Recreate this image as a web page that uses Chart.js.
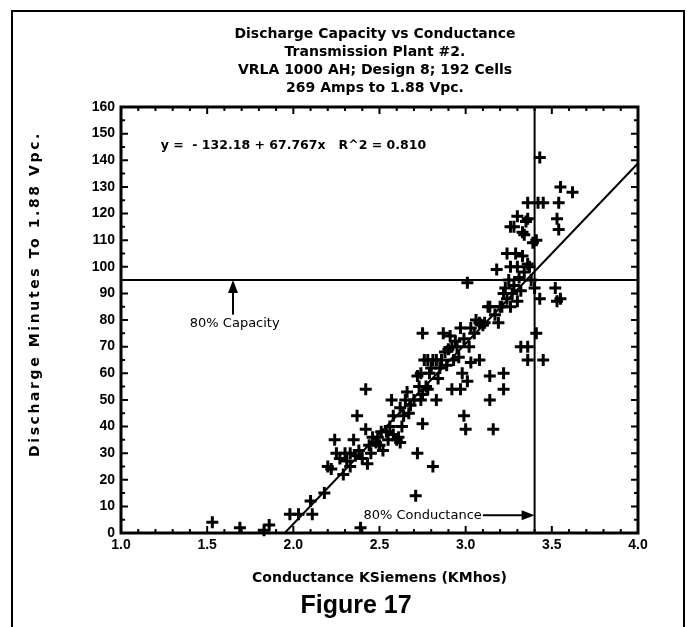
<!DOCTYPE html>
<html>
<head>
<meta charset="utf-8">
<script src="https://cdn.jsdelivr.net/npm/chart.js@4.4.1/dist/chart.umd.min.js"></script>
<style>
body{margin:0;background:#fff;}
#wrap{position:relative;width:687px;height:627px;overflow:hidden;}
#frame{position:absolute;left:11px;top:10px;width:670px;height:700px;border:2px solid #000;}
canvas{position:absolute;left:0;top:0;}
</style>
</head>
<body>
<div id="wrap"><div id="frame"></div><canvas id="chart" width="687" height="627"></canvas></div>
<script>
// values
const conductance = [1.53,1.69,1.83,1.86,1.98,2.03,2.10,2.11,2.18,2.20,2.22,2.24,2.25,2.27,2.29,2.30,2.31,2.33,2.33,2.35,
2.36,2.37,2.38,2.39,2.40,2.42,2.42,2.43,2.44,2.45,2.46,2.48,2.49,2.50,2.51,2.52,2.54,2.55,2.56,2.57,
2.58,2.58,2.60,2.61,2.62,2.62,2.63,2.64,2.65,2.66,2.67,2.68,2.70,2.71,2.72,2.72,2.73,2.74,2.74,2.75,
2.75,2.75,2.76,2.77,2.78,2.78,2.79,2.80,2.81,2.81,2.83,2.83,2.84,2.85,2.86,2.87,2.88,2.89,2.90,2.91,
2.92,2.92,2.93,2.94,2.95,2.96,2.97,2.97,2.98,2.99,2.99,3.00,3.01,3.01,3.02,3.03,3.03,3.05,3.06,3.08,
3.08,3.10,3.11,3.13,3.14,3.14,3.14,3.16,3.17,3.18,3.19,3.20,3.21,3.22,3.22,3.22,3.23,3.24,3.24,3.25,
3.26,3.26,3.26,3.27,3.28,3.28,3.29,3.30,3.30,3.30,3.31,3.32,3.32,3.33,3.33,3.34,3.34,3.35,3.36,3.36,
3.36,3.36,3.36,3.37,3.38,3.39,3.40,3.41,3.41,3.42,3.43,3.43,3.45,3.45,3.52,3.53,3.53,3.54,3.54,3.55,
3.55,3.62];
const minutes = [4,2,1,3,7,7,12,7,15,25,24,35,30,28,22,30,27,25,30,35,
29,44,31,2,28,54,39,26,33,30,36,34,36,33,38,31,38,35,40,50,
44,37,35,36,47,34,40,44,50,53,45,48,50,14,59,30,55,60,50,52,
41,75,65,55,54,65,60,62,65,25,50,65,58,62,65,75,68,63,69,74,
54,70,65,72,70,66,54,77,60,44,73,39,57,94,70,64,77,75,80,65,
79,78,79,85,50,59,85,39,82,99,79,85,85,60,54,90,92,88,105,95,
100,85,115,90,115,93,105,87,100,119,96,70,91,104,113,112,98,117,124,118,
101,70,65,100,95,109,92,110,75,124,141,88,124,65,92,87,118,114,124,88,
130,128];

// regression line ends (y = -132.18 + 67.767x)
const fitX = [1.95, 4.0];
const fitY = [0, 138.9];

// 80% reference levels
const capacityLevel = 95;
const conductanceLevel = 3.4;

const xTickLabels = ['1.0','1.5','2.0','2.5','3.0','3.5','4.0'];
const yTickLabels = [0,10,20,30,40,50,60,70,80,90,100,110,120,130,140,150,160];

const points = conductance.map((c, i) => ({x: c, y: minutes[i]}));

function arrow(ctx, x1, y1, x2, y2){
  const ang = Math.atan2(y2 - y1, x2 - x1);
  const hl = 13, hw = 5;
  ctx.beginPath();
  ctx.moveTo(x1, y1);
  ctx.lineTo(x2 - Math.cos(ang) * hl * 0.8, y2 - Math.sin(ang) * hl * 0.8);
  ctx.stroke();
  ctx.beginPath();
  ctx.moveTo(x2, y2);
  ctx.lineTo(x2 - Math.cos(ang) * hl - Math.sin(ang) * hw, y2 - Math.sin(ang) * hl + Math.cos(ang) * hw);
  ctx.lineTo(x2 - Math.cos(ang) * hl + Math.sin(ang) * hw, y2 - Math.sin(ang) * hl - Math.cos(ang) * hw);
  ctx.closePath();
  ctx.fill();
}

const extras = {
  id: 'extras',
  afterDraw(chart){
    const {ctx, chartArea: a, scales: {x, y}} = chart;
    ctx.save();
    ctx.strokeStyle = '#000';
    ctx.fillStyle = '#000';

    // inward ticks on all four sides
    ctx.lineWidth = 2;
    x.ticks.forEach(t => {
      const p = x.getPixelForValue(t.value);
      const len = Math.round(t.value * 10) % 5 === 0 ? 7 : 4;
      ctx.beginPath();
      ctx.moveTo(p, a.bottom); ctx.lineTo(p, a.bottom - len);
      ctx.moveTo(p, a.top); ctx.lineTo(p, a.top + len);
      ctx.stroke();
    });
    y.ticks.forEach(t => {
      const p = y.getPixelForValue(t.value);
      const len = Math.round(t.value) % 10 === 0 ? 7 : 4;
      ctx.beginPath();
      ctx.moveTo(a.left, p); ctx.lineTo(a.left + len, p);
      ctx.moveTo(a.right, p); ctx.lineTo(a.right - len, p);
      ctx.stroke();
    });
    ctx.lineWidth = 3;
    ctx.strokeRect(a.left, a.top, a.right - a.left, a.bottom - a.top);

    // y axis title, widely spaced as in the original
    ctx.save();
    ctx.translate(35, 294);
    ctx.rotate(-Math.PI / 2);
    ctx.font = 'bold 14px "DejaVu Sans"';
    ctx.letterSpacing = '2.6px';
    ctx.textAlign = 'center';
    ctx.textBaseline = 'middle';
    ctx.fillText('Discharge Minutes To 1.88 Vpc.', 0, 0);
    ctx.restore();

    // equation
    ctx.font = 'bold 12.5px "DejaVu Sans"';
    ctx.textAlign = 'left';
    ctx.textBaseline = 'middle';
    ctx.fillText('y =  - 132.18 + 67.767x   R^2 = 0.810', x.getPixelForValue(1.23), y.getPixelForValue(145.5));

    // 80% labels
    ctx.font = '13px "DejaVu Sans"';
    ctx.textAlign = 'center';
    ctx.fillText('80% Capacity', x.getPixelForValue(1.66), y.getPixelForValue(78.5));
    ctx.fillText('80% Conductance', x.getPixelForValue(2.75), y.getPixelForValue(6.7));

    ctx.lineWidth = 2;
    arrow(ctx, x.getPixelForValue(1.65), y.getPixelForValue(82), x.getPixelForValue(1.65), y.getPixelForValue(capacityLevel));
    arrow(ctx, x.getPixelForValue(3.1), y.getPixelForValue(6.7), x.getPixelForValue(conductanceLevel), y.getPixelForValue(6.7));

    // figure caption
    ctx.font = 'bold 25px "Liberation Sans"';
    ctx.textAlign = 'center';
    ctx.fillText('Figure 17', 356, 606);
    ctx.restore();
  }
};

new Chart(document.getElementById('chart'), {
  type: 'scatter',
  data: {
    datasets: [
      {
        data: points,
        pointStyle: 'cross',
        pointRadius: 6,
        pointBorderWidth: 3,
        borderColor: '#000',
        backgroundColor: '#000',
        clip: false
      },
      {
        type: 'line',
        data: fitX.map((v, i) => ({x: v, y: fitY[i]})),
        borderColor: '#000',
        borderWidth: 2,
        pointRadius: 0
      },
      {
        type: 'line',
        data: [{x: 1, y: capacityLevel}, {x: 4, y: capacityLevel}],
        borderColor: '#000',
        borderWidth: 2,
        pointRadius: 0
      },
      {
        type: 'line',
        data: [{x: conductanceLevel, y: 0}, {x: conductanceLevel, y: 160}],
        borderColor: '#000',
        borderWidth: 2,
        pointRadius: 0
      }
    ]
  },
  options: {
    responsive: false,
    animation: false,
    layout: { padding: { left: 12, right: -51, top: 12, bottom: 0 } },
    plugins: {
      legend: { display: false },
      tooltip: { enabled: false },
      title: {
        display: true,
        text: ['Discharge Capacity vs Conductance', 'Transmission Plant #2.', 'VRLA 1000 AH; Design 8; 192 Cells', '269 Amps to 1.88 Vpc.'],
        color: '#000',
        font: { family: 'DejaVu Sans', size: 14, weight: 'bold', lineHeight: '18px' },
        padding: { top: 13, bottom: 10 }
      }
    },
    scales: {
      x: {
        type: 'linear',
        min: 1, max: 4,
        afterFit: s => { s.height = 94; },
        grid: { display: false, drawTicks: false },
        border: { display: false },
        ticks: {
          stepSize: 0.1,
          autoSkip: false,
          maxRotation: 0,
          padding: 4,
          color: '#000',
          font: { family: 'Liberation Sans', size: 14, weight: 'bold' },
          callback: v => {
            const s = v.toFixed(1);
            return xTickLabels.includes(s) ? s : '';
          }
        },
        title: {
          display: true,
          text: 'Conductance KSiemens (KMhos)',
          color: '#000',
          font: { family: 'DejaVu Sans', size: 14, weight: 'bold' },
          padding: { top: 0, bottom: 40 }
        }
      },
      y: {
        min: 0, max: 160,
        afterFit: s => { s.width = 109; },
        grid: { display: false, drawTicks: false },
        border: { display: false },
        ticks: {
          stepSize: 5,
          autoSkip: false,
          padding: 6,
          color: '#000',
          font: { family: 'Liberation Sans', size: 14, weight: 'bold' },
          callback: v => yTickLabels.includes(Math.round(v)) && Math.abs(v - Math.round(v)) < 1e-6 ? String(Math.round(v)) : ''
        }
      },
      y2: {
        position: 'right',
        afterFit: s => { s.width = 100; },
        grid: { display: false, drawTicks: false },
        border: { display: false },
        ticks: { display: false }
      }
    }
  },
  plugins: [extras]
});
</script>
</body>
</html>
